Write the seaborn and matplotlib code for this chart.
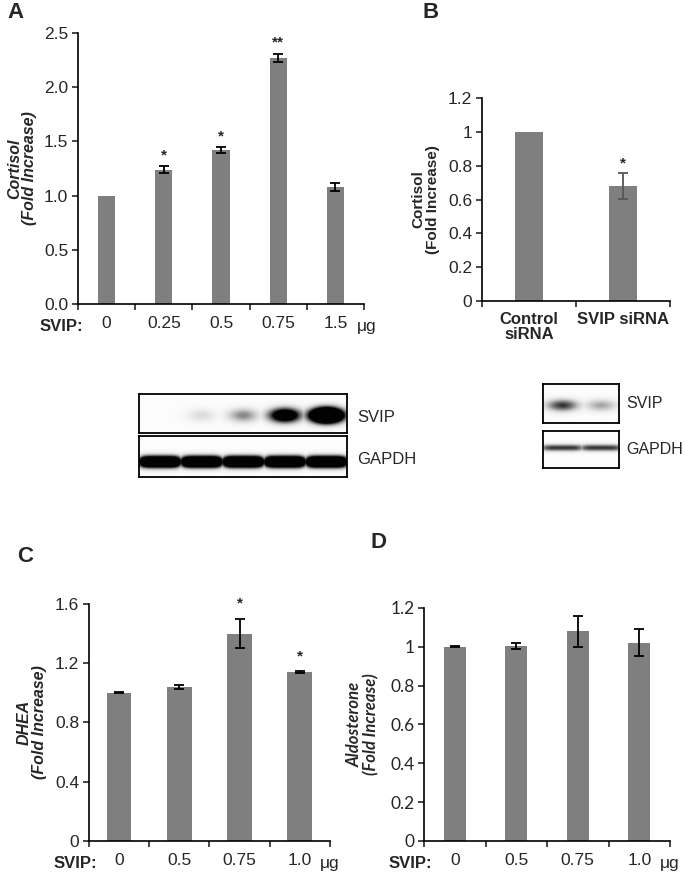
import numpy as np
import pandas as pd
import seaborn as sns
import matplotlib.pyplot as plt
from matplotlib.ticker import MultipleLocator, FixedLocator

# panel A: cortisol vs SVIP dose
a_doses = ["0", "0.25", "0.5", "0.75", "1.5"]
a_vals = [1.00, 1.24, 1.42, 2.27, 1.08]
a_errs = [0.0, 0.03, 0.03, 0.04, 0.035]
a_stars = ["", "*", "*", "**", ""]

# panel B: cortisol after siRNA
b_groups = ["Control\nsiRNA", "SVIP siRNA"]
b_vals = [1.00, 0.68]
b_errs = [0.0, 0.075]
b_stars = ["", "*"]

# panel C: DHEA
c_doses = ["0", "0.5", "0.75", "1.0"]
c_vals = [1.00, 1.04, 1.40, 1.14]
c_errs = [0.004, 0.012, 0.10, 0.006]
c_stars = ["", "", "*", "*"]

# panel D: aldosterone
d_doses = ["0", "0.5", "0.75", "1.0"]
d_vals = [1.00, 1.005, 1.08, 1.02]
d_errs = [0.003, 0.014, 0.08, 0.07]

# western blot band intensities (relative, by lane)
blot_a_svip = [0.0, 0.22, 0.55, 1.7, 3.4]
blot_a_gapdh = [2.5, 2.5, 2.5, 2.5, 2.5]
blot_b_svip = [0.85, 0.45]
blot_b_gapdh = [0.85, 0.85]

sns.set_style("ticks")
plt.rcParams["font.family"] = ["Liberation Sans", "DejaVu Sans"]

BAR = "#7f7f7f"
TICK = 12.5
fig = plt.figure(figsize=(6.85, 8.73), dpi=100)


def bar_panel(rect, cats, vals, errs, stars, ymax, ystep, ecolor="black",
              width=0.3, fmt=None, star_off=0.06, tick_font=None):
    ax = fig.add_axes(rect)
    df = pd.DataFrame({"cat": cats, "val": vals})
    sns.barplot(data=df, x="cat", y="val", color=BAR, width=width,
                errorbar=None, saturation=1, edgecolor="none", ax=ax)
    x = np.arange(len(cats))
    has = np.array(errs) > 0
    ax.errorbar(x[has], np.array(vals)[has], yerr=np.array(errs)[has],
                fmt="none", ecolor=ecolor, elinewidth=1.3, capsize=3.8,
                capthick=1.3)
    for xi, v, e, s in zip(x, vals, errs, stars):
        if s:
            ax.text(xi, v + e + star_off, s, ha="center", va="center",
                    fontsize=11, fontweight="bold")
    ax.set_xlim(-0.5, len(cats) - 0.5)
    ax.set_ylim(0, ymax)
    ax.yaxis.set_major_locator(MultipleLocator(ystep))
    if fmt:
        ax.set_yticks(ax.get_yticks())
        ax.set_yticklabels([fmt(t) for t in ax.get_yticks()])
    ax.set_ylim(0, ymax)
    ax.set_xticks(x)
    ax.set_xticklabels(cats)
    ax.xaxis.set_minor_locator(FixedLocator(np.arange(len(cats) + 1) - 0.5))
    ax.tick_params(axis="x", which="major", length=0, pad=9, labelsize=TICK)
    ax.tick_params(axis="x", which="minor", length=4, width=1.2, direction="out")
    ax.tick_params(axis="y", length=4, width=1.2, direction="out", labelsize=TICK,
                   pad=3)
    if tick_font:
        for lab in ax.get_yticklabels():
            lab.set_family(tick_font)
    ax.set_xlabel("")
    for sp in ["left", "bottom"]:
        ax.spines[sp].set_linewidth(1.2)
        ax.spines[sp].set_color("black")
    sns.despine(ax=ax)
    return ax


def dose_labels(ax, left_pt, right_pt):
    ax.annotate("SVIP:", xy=(0, 0), xycoords="axes fraction",
                xytext=(left_pt, -16), textcoords="offset points",
                ha="right", va="center", fontsize=12, fontweight="bold")
    ax.annotate("μg", xy=(1, 0), xycoords="axes fraction",
                xytext=(right_pt, -16), textcoords="offset points",
                ha="left", va="center", fontsize=TICK)


def blot(rect, amps, yc, hw, xpow, wfrac):
    ax = fig.add_axes(rect)
    n = len(amps)
    H, W = 60, 60 * n
    yy, xx = np.mgrid[0:H, 0:W]
    img = np.zeros((H, W))
    lw = W / n
    for i, a in enumerate(amps):
        cx = (i + 0.5) * lw
        band = a * np.exp(-np.abs((xx - cx) / (lw * wfrac)) ** xpow
                          - ((yy - yc * H) / (H * hw)) ** 2)
        img = np.maximum(img, band)
    ax.imshow(np.clip(img, 0, 1) * 0.97 + 0.02, cmap="Greys", vmin=0, vmax=1,
              aspect="auto", interpolation="bilinear")
    ax.set_xticks([])
    ax.set_yticks([])
    for sp in ax.spines.values():
        sp.set_linewidth(1.3)
        sp.set_color("black")
    return ax


# ---- Panel A
axA = bar_panel([0.1139, 0.6518, 0.4175, 0.3104], a_doses, a_vals, a_errs,
                a_stars, 2.5, 0.5, fmt=lambda t: f"{t:.1f}", star_off=0.1)
axA.set_ylabel("Cortisol\n(Fold Increase)", fontsize=11.5, fontweight="bold",
               style="italic", labelpad=5, linespacing=1.0)
dose_labels(axA, 4, -5)

# ---- Panel B
axB = bar_panel([0.7036, 0.6552, 0.2745, 0.2325], b_groups, b_vals, b_errs,
                b_stars, 1.2, 0.2, ecolor="#555555",
                fmt=lambda t: f"{t:g}", star_off=0.06)
axB.set_xticklabels(b_groups, fontweight="bold", fontsize=12, linespacing=1.0)
axB.tick_params(axis="x", which="major", pad=8)
axB.set_ylabel("Cortisol\n(Fold Increase)", fontsize=11, fontweight="bold",
               labelpad=6, linespacing=1.0)

# ---- Panel C
axC = bar_panel([0.1299, 0.0367, 0.3518, 0.2715], c_doses, c_vals, c_errs,
                c_stars, 1.6, 0.4, fmt=lambda t: f"{t:g}", width=0.41,
                star_off=0.1)
axC.set_ylabel("DHEA\n(Fold Increase)", fontsize=11.5, fontweight="bold",
               style="italic", labelpad=6, linespacing=1.0)
dose_labels(axC, 6, -7)

# ---- Panel D
axD = bar_panel([0.619, 0.0367, 0.3591, 0.2669], d_doses, d_vals, d_errs,
                ["", "", "", ""], 1.2, 0.2, fmt=lambda t: f"{t:g}", width=0.36,
                tick_font="Lato")
axD.set_ylabel("Aldosterone\n(Fold Increase)", fontsize=12, fontweight="bold",
               style="italic", labelpad=8, linespacing=1.0, family="Lato")
dose_labels(axD, 6, -7)

# ---- blots
blot([0.2029, 0.504, 0.3036, 0.0447], blot_a_svip, 0.55, 0.18, 2, 0.38)
blot([0.2029, 0.4536, 0.3036, 0.047], blot_a_gapdh, 0.63, 0.13, 6, 0.5)
blot([0.7927, 0.5155, 0.111, 0.0447], blot_b_svip, 0.55, 0.15, 2, 0.42)
blot([0.7927, 0.4639, 0.111, 0.0424], blot_b_gapdh, 0.46, 0.09, 6, 0.55)

fig.text(357 / 685, 1 - 417 / 873, "SVIP", fontsize=12, va="center")
fig.text(357 / 685, 1 - 460 / 873, "GAPDH", fontsize=12, va="center")
fig.text(626 / 685, 1 - 404 / 873, "SVIP", fontsize=11.5, va="center")
fig.text(626 / 685, 1 - 450 / 873, "GAPDH", fontsize=11.5, va="center")

# ---- panel letters
for lab, x, y in [("A", 15, 13), ("B", 431, 12), ("C", 25, 556), ("D", 379, 542)]:
    fig.text(x / 685, 1 - y / 873, lab, fontsize=16, fontweight="bold",
             ha="center", va="center")

fig.savefig("out.png", dpi=100)
